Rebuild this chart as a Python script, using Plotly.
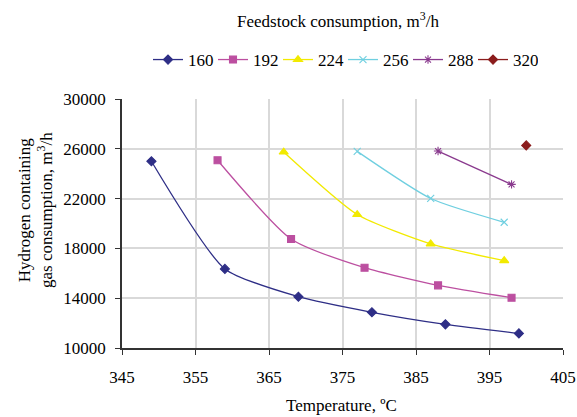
import plotly.graph_objects as go

series_names = ["160", "192", "224", "256", "288", "320"]
temps_160 = [349, 359, 369, 379, 389, 399]
vals_160 = [25000, 16350, 14120, 12870, 11900, 11170]
temps_192 = [358, 368, 378, 388, 398]
vals_192 = [25080, 18760, 16450, 15030, 14040]
temps_224 = [367, 377, 387, 397]
vals_224 = [25740, 20720, 18360, 17020]
temps_256 = [377, 387, 397]
vals_256 = [25790, 22010, 20100]
temps_288 = [388, 398]
vals_288 = [25820, 23140]
temps_320 = [400]
vals_320 = [26270]

x_ticks = [345, 355, 365, 375, 385, 395, 405]
y_ticks = [10000, 14000, 18000, 22000, 26000, 30000]
y_tick_labels = ["10000", "14000", "18000", "22000", "26000", "30000"]

colors = ["#2E2E86", "#BC4FA0", "#F2EA00", "#6FCFE0", "#8A3A8E", "#8B1C1C"]
symbols = ["diamond", "square", "triangle-up", "x-thin", "asterisk", "diamond"]
msizes = [7, 7, 8, 7, 7, 7]

xs = [temps_160, temps_192, temps_224, temps_256, temps_288, temps_320]
ys = [vals_160, vals_192, vals_224, vals_256, vals_288, vals_320]

FONT = "Liberation Serif, Times New Roman, serif"
FS = 17

W, H = 577, 417
L, R, T, B = 122, 14, 99, 69
PW, PH = W - L - R, H - T - B

fig = go.Figure()
for name, x, y, c, s, ms in zip(series_names, xs, ys, colors, symbols, msizes):
    fig.add_trace(go.Scatter(
        x=x, y=y, name=name, mode="lines+markers",
        line=dict(color=c, width=1.3, shape="spline", smoothing=0.6),
        marker=dict(symbol=s, size=ms, color=c, line=dict(color=c, width=1.1)),
    ))

fig.update_layout(
    width=W, height=H,
    margin=dict(l=L, r=R, t=T, b=B),
    paper_bgcolor="white", plot_bgcolor="white",
    font=dict(family=FONT, size=FS, color="#000000"),
    title=dict(text="Feedstock consumption, m<sup>3</sup>/h", x=338 / W, xanchor="center",
               y=1 - 21 / H, yanchor="middle", font=dict(family=FONT, size=FS, color="#000")),
    legend=dict(orientation="h", x=(343 - L) / PW, xanchor="center", y=(PH + T - 60) / PH,
                yanchor="middle", font=dict(family=FONT, size=FS), tracegroupgap=0,
                itemwidth=30, entrywidth=20, bgcolor="rgba(0,0,0,0)"),
    showlegend=True,
    annotations=[
        dict(text="Temperature, ºC", xref="paper", yref="paper", x=(341 - L) / PW,
             y=-(405 - (T + PH)) / PH, xanchor="center", yanchor="middle", showarrow=False,
             font=dict(family=FONT, size=FS)),
        dict(text="Hydrogen containing<br>gas consumption, m<sup>3</sup>/h", xref="paper", yref="paper",
             x=(35 - L) / PW, y=(T + PH - 210) / PH, xanchor="center", yanchor="middle",
             textangle=-90, showarrow=False, font=dict(family=FONT, size=FS)),
    ],
)
fig.update_xaxes(
    range=[345, 405], tickmode="array", tickvals=x_ticks,
    showgrid=True, gridcolor="#D9D9D9", gridwidth=1.5,
    showline=True, linecolor="#333333", linewidth=1.5,
    ticks="outside", ticklen=5, tickcolor="#333333", ticklabelstandoff=8,
    tickfont=dict(family=FONT, size=FS), zeroline=False, automargin=False,
)
fig.update_yaxes(
    range=[10000, 30000], tickmode="array", tickvals=y_ticks, ticktext=y_tick_labels,
    showgrid=True, gridcolor="#D9D9D9", gridwidth=1.5,
    showline=True, linecolor="#333333", linewidth=1.5,
    ticks="outside", ticklen=5, tickcolor="#333333", ticklabelstandoff=6,
    tickfont=dict(family=FONT, size=FS), zeroline=False, automargin=False,
)

fig.write_html("out.html", config={"displayModeBar": False},
               post_script="document.body.style.margin='0';document.body.style.overflow='hidden';")
